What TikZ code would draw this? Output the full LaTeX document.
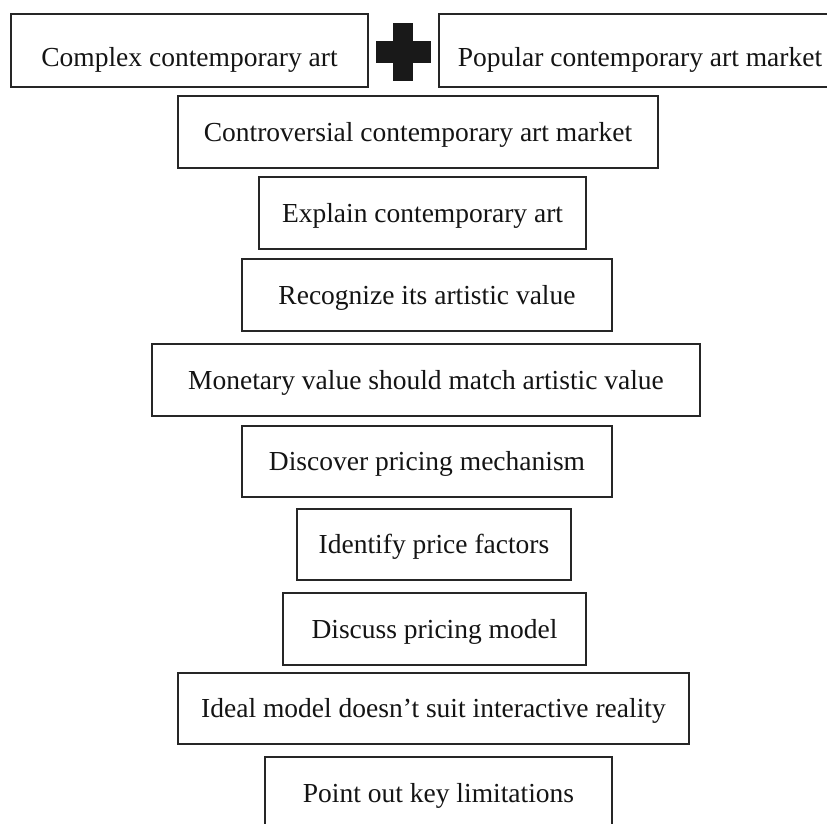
\documentclass[tikz,border=0pt]{standalone}
\usepackage{fontspec}
\setmainfont{Liberation Serif}
\begin{document}
\begin{tikzpicture}[x=1pt,y=-1pt,
  stepbox/.style={draw=black!85, line width=1.4pt, rectangle, inner sep=0pt,
    font=\fontsize{27.5}{32}\selectfont, text=black!92,
    text height=18.2pt, text depth=0pt},
  lowtext/.style={text height=32pt},
  plusmark/.style={fill=black!90, draw=none}]
  \clip (0,0) rectangle (827,823);
  \fill[white] (0,0) rectangle (827,823);

  % box at (left,top) -- (right,bottom): centre plus size
  \newcommand{\boxat}[7][]{%
    \node[stepbox, #1, minimum width={#5-#3}, minimum height={#6-#4}]
      (#2) at ({(#3+#5)/2},{(#4+#6)/2}) {#7};}

  \boxat[lowtext]{complex}{11}{14}{368}{87}{Complex contemporary art}
  \boxat[lowtext]{popular}{439}{14}{841}{87}{Popular contemporary art market}
  \boxat{controversial}{178}{96}{658}{168}{Controversial contemporary art market}
  \boxat{explain}{259}{177}{586}{249}{Explain contemporary art}
  \boxat{recognize}{242}{259}{612}{331}{Recognize its artistic value}
  \boxat{monetary}{152}{344}{700}{416}{Monetary value should match artistic value}
  \boxat{discover}{242}{426}{612}{497}{Discover pricing mechanism}
  \boxat{identify}{297}{509}{571}{580}{Identify price factors}
  \boxat{discuss}{283}{593}{586}{665}{Discuss pricing model}
  \boxat{ideal}{178}{673}{689}{744}{Ideal model doesn’t suit interactive reality}
  \boxat{limits}{265}{757}{612}{829}{Point out key limitations}

  % plus sign between the two top boxes
  \fill[plusmark] (393,23) rectangle (413,81);
  \fill[plusmark] (376,41) rectangle (431,63);
\end{tikzpicture}
\end{document}
